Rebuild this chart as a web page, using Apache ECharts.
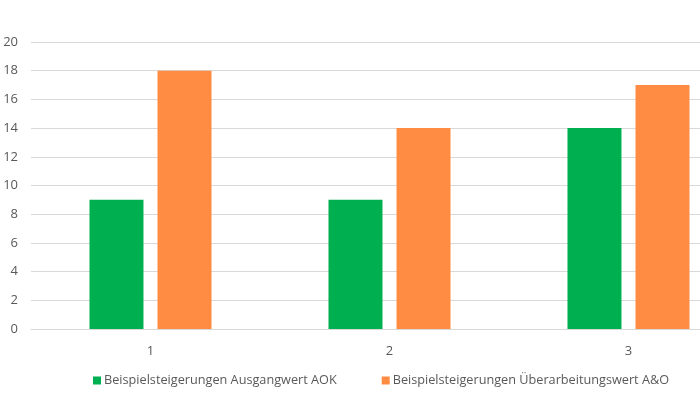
<!DOCTYPE html>
<html><head><meta charset="utf-8">
<script src="https://cdn.jsdelivr.net/npm/echarts@6/dist/echarts.min.js"></script>
<style>html,body{margin:0;padding:0;background:#fff}#c{width:700px;height:398px}</style>
</head><body><div id="c"></div>
<script>
const categories = ['1', '2', '3'];
const seriesNames = ['Beispielsteigerungen Ausgangwert AOK', 'Beispielsteigerungen Überarbeitungswert A&O'];
const aokValues = [9, 9, 14];
const aoValues = [18, 14, 17];
const yTicks = [0, 2, 4, 6, 8, 10, 12, 14, 16, 18, 20];

const chart = echarts.init(document.getElementById('c'), null, {renderer: 'canvas'});
const font = '"Open Sans", "Noto Sans", sans-serif';
chart.setOption({
  animation: false,
  color: ['#00b050', '#ff8c42'],
  grid: {left: 31, top: 42, right: -48, height: 287, containLabel: false, outerBoundsMode: 'none'},
  legend: {
    bottom: 6, left: 88, itemWidth: 8, itemHeight: 8, itemGap: 45,
    icon: 'rect',
    textStyle: {color: '#595959', fontSize: 12.7, fontFamily: font, padding: [0, 0, 0, -2]},
    data: seriesNames
  },
  xAxis: {
    type: 'category', data: categories,
    axisLine: {show: true, lineStyle: {color: '#d9d9d9', width: 1}},
    axisTick: {show: false},
    axisLabel: {color: '#595959', fontSize: 13, fontFamily: font, margin: 16}
  },
  yAxis: {
    type: 'value', min: yTicks[0], max: yTicks[yTicks.length - 1], interval: 2,
    axisLine: {show: false}, axisTick: {show: false},
    splitLine: {lineStyle: {color: '#d9d9d9', width: 1}},
    axisLabel: {color: '#595959', fontSize: 13, fontFamily: font, margin: 13}
  },
  series: [
    {name: seriesNames[0], type: 'bar', data: aokValues, barWidth: 54, barGap: '26%'},
    {name: seriesNames[1], type: 'bar', data: aoValues, barWidth: 54, barGap: '26%'}
  ]
});
</script></body></html>
